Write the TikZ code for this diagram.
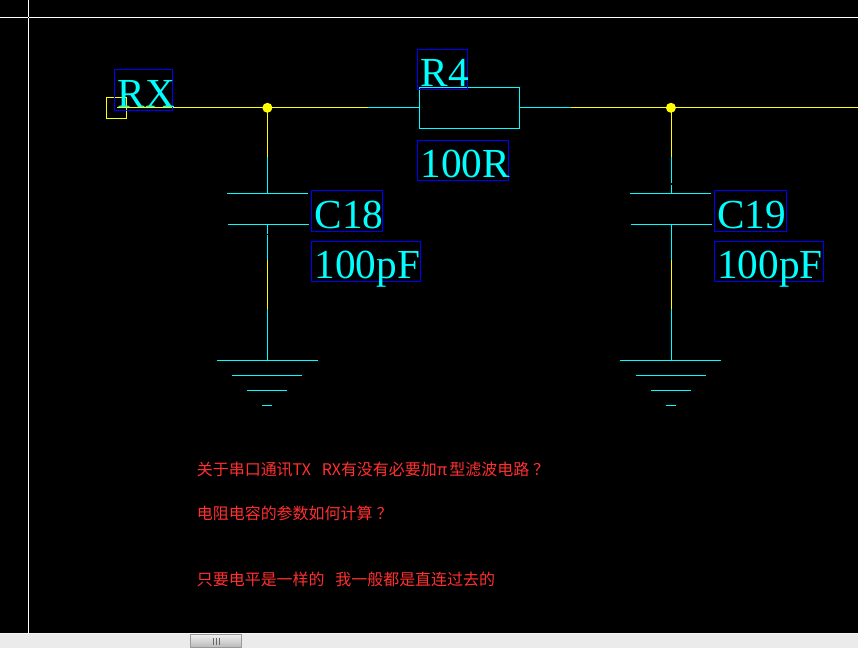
\documentclass[tikz,border=0pt]{standalone}
\usepackage{fontspec}
\setmainfont{Liberation Serif}
\newfontfamily\cjk{Noto Sans CJK SC}
\definecolor{wirecyan}{rgb}{0,1,1}
\definecolor{wireyellow}{rgb}{1,1,0}
\definecolor{noteRed}{rgb}{1,0.19,0.19}
\tikzset{
  lbl/.style={draw=blue,line width=0.75pt,anchor=north west,inner sep=0pt,inner xsep=2.25pt,outer sep=0pt,
    text=wirecyan,align=left,text height=27.375pt,text depth=2.625pt,font=\fontsize{31}{31}\selectfont},
  lbltall/.style={lbl,text height=28.125pt},
  cyanw/.style={draw=wirecyan,line width=0.75pt},
  yelw/.style={draw=wireyellow,line width=0.75pt},
  junc/.style={circle,fill=wireyellow,inner sep=0pt,minimum size=7.5pt,outer sep=0pt},
  note/.style={anchor=base west,inner sep=0pt,text=noteRed,font=\cjk\fontsize{12}{12}\selectfont},
}
\begin{document}
\begin{tikzpicture}[x=0.75pt,y=0.75pt,yscale=-1,xscale=1]
\fill [black] (0,0) rectangle (858,648);

%Crosshair
\draw [white,line width=0.75pt] (0,17.5) -- (858,17.5);
\draw [white,line width=0.75pt] (28.5,0) -- (28.5,633);
\fill [black] (28,17) rectangle (29,18);

%Pin and junctions
\node (pin) [draw=wireyellow,line width=0.75pt,inner sep=0pt,outer sep=0pt,minimum width=15pt,minimum height=15.75pt] at (116.5,108) {};
\node (j1) [junc] at (267.2,107.4) {};
\node (j2) [junc] at (671.2,107.4) {};
%Resistor
\node (r4) [draw=wirecyan,line width=0.75pt,inner sep=0pt,outer sep=0pt,minimum width=75pt,minimum height=30.75pt] at (469.5,108) {};

\coordinate (wa) at (367.5,107.5);
\coordinate (wb) at (571.5,107.5);
\coordinate (wend) at (858,107.5);
%Top wire
\draw [yelw] (pin.center |- wa) -- (j1 |- wa);
\draw [yelw] (j1 |- wa) -- (wa);
\draw [cyanw] (wa) -- (wa -| r4.west);
\draw [cyanw] (wb -| r4.east) -- (wb);
\draw [yelw] (wb) -- (j2 |- wb);
\draw [yelw] (j2 |- wb) -- (wend);

%C18
\coordinate (c18z) at (267.5,107.5);
\coordinate (c18a) at (267.5,157);
\coordinate (c18t) at (267.5,193.5);
\coordinate (c18b) at (267.5,224.5);
\coordinate (c18c) at (267.5,233.5);
\coordinate (c18d) at (267.5,235);
\coordinate (c18e) at (267.5,260);
\coordinate (c18f) at (267.5,309);
\coordinate (g1) at (267.5,360.5);
\draw [yelw] (c18z) -- (c18a);
\draw [cyanw] (c18a) -- (c18t);
\draw [cyanw] (c18b) -- (c18c);
\draw [cyanw] (c18d) -- (c18e);
\draw [yelw] (c18e) -- (c18f);
\draw [cyanw] (c18f) -- (g1);
\draw [cyanw] (227,193.5) -- (308,193.5);
\draw [cyanw] (228,224.5) -- (309,224.5);
\draw [cyanw] (217,360.5) -- (318,360.5);
\draw [cyanw] (232,375.5) -- (302,375.5);
\draw [cyanw] (247,390.5) -- (287,390.5);
\draw [cyanw] (262,405.5) -- (272,405.5);

%C19
\coordinate (c19z) at (671.5,107.5);
\coordinate (c19a) at (671.5,157);
\coordinate (c19b) at (671.5,183);
\coordinate (c19c) at (671.5,184.5);
\coordinate (c19t) at (671.5,193.5);
\coordinate (c19d) at (671.5,224.5);
\coordinate (c19e) at (671.5,260);
\coordinate (c19f) at (671.5,309);
\coordinate (g2) at (671.5,360.5);
\draw [yelw] (c19z) -- (c19a);
\draw [cyanw] (c19a) -- (c19b);
\draw [cyanw] (c19c) -- (c19t);
\draw [cyanw] (c19d) -- (c19e);
\draw [yelw] (c19e) -- (c19f);
\draw [cyanw] (c19f) -- (g2);
\draw [cyanw] (630,193.5) -- (711,193.5);
\draw [cyanw] (631,224.5) -- (712,224.5);
\draw [cyanw] (620,360.5) -- (721,360.5);
\draw [cyanw] (636,375.5) -- (706,375.5);
\draw [cyanw] (651,390.5) -- (691,390.5);
\draw [cyanw] (666,405.5) -- (676,405.5);

% Text Node
\node (rx) [lbltall,text width=39pt] at (114.5,69.5) {RX};
% Text Node
\node (r4name) [lbl,text width=33pt] at (417.5,49.5) {R4};
% Text Node
\node (r4val) [lbl,text width=63.75pt] at (417.5,140.5) {100R};
% Text Node
\node (c18name) [lbltall,text width=48.75pt] at (311.5,190.5) {C18};
% Text Node
\node (c18val) [lbl,text width=77.25pt] at (311.5,241.5) {100pF};
% Text Node
\node (c19name) [lbltall,text width=49.5pt] at (714.5,190.5) {C19};
% Text Node
\node (c19val) [lbl,text width=77.25pt] at (714.5,241.5) {100pF};

% Text Node
\node (note1) [note] at (196.3,476) {关于串口通讯TX\hspace{8pt}RX有没有必要加π\hspace{1.5pt}型滤波电路\hspace{3pt}？};
% Text Node
\node (note2) [note] at (196.3,520) {电阻电容的参数如何计算\hspace{3pt}？};
% Text Node
\node (note3) [note] at (196.3,586) {只要电平是一样的\hspace{8pt}我一般都是直连过去的};

%Scrollbar
\fill [black!8] (0,633) rectangle (858,648);
\draw [black!3,line width=0.75pt] (0,633.5) -- (858,633.5);
\draw [black!40,line width=0.75pt,top color=black!6,bottom color=black!28] (190.5,634.5) rectangle (241.5,648);
\foreach \gx in {213,216,219}
  \draw [black!60,line width=1.1pt] (\gx,638) -- (\gx,645);
\end{tikzpicture}
\end{document}
